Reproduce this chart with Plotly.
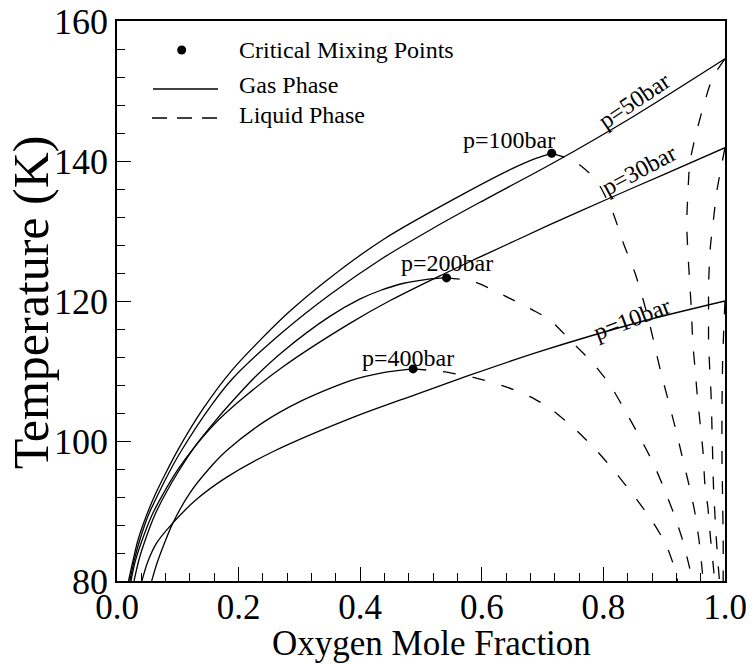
import plotly.graph_objects as go

FONT = "Liberation Serif, Times New Roman, serif"

# ---------------------------------------------------------------------------
# Phase-boundary data for the N2/O2 system (x = O2 mole fraction, T in K)
# ---------------------------------------------------------------------------
pressures = ["10", "30", "50", "100", "200", "400"]

# Critical mixing points (100, 200, 400 bar)
crit_x = [0.715, 0.542, 0.487]
crit_T = [141.1, 123.3, 110.3]

# Gas-phase (dew) branches
gas_10_x = [0.041, 0.050, 0.065, 0.092, 0.130, 0.180, 0.257, 0.383, 0.490, 0.580, 0.696, 0.860, 1.000]
gas_10_T = [80.0, 82.6, 85.4, 88.3, 91.6, 94.8, 98.5, 103.2, 106.6, 109.4, 112.8, 117.0, 120.0]

gas_30_x = [0.023, 0.030, 0.042, 0.058, 0.075, 0.100, 0.128, 0.160, 0.200, 0.273, 0.383, 0.450,
            0.531, 0.600, 0.712, 0.805, 0.900, 1.000]
gas_30_T = [80.0, 82.8, 86.0, 89.5, 92.3, 95.9, 99.2, 102.4, 105.6, 110.6, 116.8, 120.1,
            123.6, 126.4, 130.9, 134.5, 138.1, 141.9]

gas_50_x = [0.021, 0.029, 0.038, 0.052, 0.066, 0.085, 0.105, 0.156, 0.191, 0.273, 0.350, 0.433,
            0.520, 0.597, 0.715, 0.850, 1.000]
gas_50_T = [80.0, 83.2, 86.0, 89.5, 92.1, 95.4, 98.5, 105.2, 109.0, 115.6, 120.9, 125.9,
            130.4, 134.1, 139.6, 146.4, 154.6]

gas_100_x = [0.019, 0.027, 0.035, 0.050, 0.0625, 0.080, 0.100, 0.140, 0.190, 0.280, 0.350, 0.440,
             0.570, 0.650, 0.690, 0.715]
gas_100_T = [80.0, 83.2, 86.0, 89.7, 92.3, 95.4, 98.7, 104.4, 110.2, 118.2, 123.3, 128.9,
             135.3, 138.9, 140.4, 141.1]

gas_200_x = [0.028, 0.036, 0.047, 0.062, 0.080, 0.100, 0.128, 0.160, 0.189, 0.230, 0.273, 0.350,
             0.400, 0.433, 0.470, 0.510, 0.542]
gas_200_T = [80.0, 83.0, 86.0, 89.4, 92.5, 95.5, 99.2, 102.7, 105.6, 109.4, 112.8, 117.8,
             120.3, 121.5, 122.5, 123.1, 123.3]

gas_400_x = [0.057, 0.066, 0.078, 0.092, 0.120, 0.150, 0.180, 0.243, 0.300, 0.383, 0.440, 0.487]
gas_400_T = [80.0, 82.6, 85.4, 88.3, 92.6, 95.9, 98.6, 102.8, 105.6, 108.6, 109.8, 110.3]

# Liquid-phase (bubble) branches
liq_10_x = [1.000, 0.998, 0.996, 0.995, 0.995, 0.996, 0.997, 0.997]
liq_10_T = [120.0, 116.0, 111.0, 104.0, 98.0, 92.0, 86.0, 80.0]

liq_30_x = [1.000, 0.995, 0.986, 0.981, 0.976, 0.973, 0.973, 0.973, 0.975, 0.977, 0.979, 0.981, 0.985, 0.989, 0.991]
liq_30_T = [141.9, 139.7, 135.4, 131.6, 127.8, 122.5, 118.2, 114.0, 110.1, 106.8, 100.5, 93.7, 87.0, 82.0, 80.0]

liq_50_x = [1.000, 0.980, 0.964, 0.951, 0.942, 0.939, 0.937, 0.939, 0.942, 0.945, 0.947, 0.951, 0.954,
            0.959, 0.964, 0.967, 0.972, 0.976, 0.981, 0.983]
liq_50_T = [154.6, 152.0, 147.7, 143.4, 139.7, 135.4, 131.1, 126.9, 122.6, 118.3, 114.0, 110.1, 106.9,
            102.6, 98.3, 93.7, 90.4, 86.3, 81.9, 80.0]

liq_100_x = [0.715, 0.752, 0.788, 0.814, 0.834, 0.852, 0.866, 0.878, 0.886, 0.894, 0.906, 0.918,
             0.929, 0.940, 0.950, 0.957, 0.962, 0.964]
liq_100_T = [141.1, 140.0, 137.3, 133.0, 128.0, 124.0, 120.0, 116.0, 113.0, 110.0, 106.0, 102.0,
             98.0, 94.0, 90.0, 86.0, 82.0, 80.0]

liq_200_x = [0.542, 0.586, 0.641, 0.684, 0.712, 0.750, 0.783, 0.811, 0.832, 0.857, 0.880, 0.898,
             0.915, 0.929, 0.942, 0.946]
liq_200_T = [123.3, 122.8, 120.6, 118.7, 117.3, 114.0, 111.1, 108.0, 104.9, 101.0, 97.2, 93.6,
             89.8, 86.2, 81.8, 80.0]

liq_400_x = [0.487, 0.536, 0.586, 0.641, 0.685, 0.718, 0.756, 0.789, 0.819, 0.849, 0.877, 0.903, 0.918, 0.922]
liq_400_T = [110.3, 109.9, 109.1, 107.7, 106.1, 104.3, 101.5, 98.6, 95.6, 92.3, 89.0, 85.2, 81.6, 80.0]

gas_curves = [(gas_10_x, gas_10_T), (gas_30_x, gas_30_T), (gas_50_x, gas_50_T),
              (gas_100_x, gas_100_T), (gas_200_x, gas_200_T), (gas_400_x, gas_400_T)]
liq_curves = [(liq_10_x, liq_10_T), (liq_30_x, liq_30_T), (liq_50_x, liq_50_T),
              (liq_100_x, liq_100_T), (liq_200_x, liq_200_T), (liq_400_x, liq_400_T)]

x_ticks = [0.0, 0.2, 0.4, 0.6, 0.8, 1.0]
y_ticks = [80, 100, 120, 140, 160]

x_title = "Oxygen Mole Fraction"
y_title = "Temperature (K)"
legend_texts = ["Critical Mixing Points", "Gas Phase", "Liquid Phase"]

# Curve labels: text, x, T, angle
curve_labels = [
    ("p=10bar", 0.847, 117.4, -21),
    ("p=30bar", 0.859, 138.7, -28),
    ("p=50bar", 0.850, 148.6, -34),
    ("p=100bar", 0.645, 143.0, 0),
    ("p=200bar", 0.543, 125.4, 0),
    ("p=400bar", 0.479, 111.9, 0),
]

# ---------------------------------------------------------------------------
fig = go.Figure()

for (cx, cT), p in zip(gas_curves, pressures):
    fig.add_trace(go.Scatter(x=cx, y=cT, mode="lines", name=f"gas {p} bar",
                             line=dict(color="black", width=1.3, shape="spline", smoothing=0.8),
                             showlegend=False, hoverinfo="skip"))

for (cx, cT), p in zip(liq_curves, pressures):
    fig.add_trace(go.Scatter(x=cx, y=cT, mode="lines", name=f"liquid {p} bar",
                             line=dict(color="black", width=1.3, dash="13px,17px",
                                       shape="spline", smoothing=0.6),
                             showlegend=False, hoverinfo="skip"))

fig.add_trace(go.Scatter(x=crit_x, y=crit_T, mode="markers",
                         marker=dict(color="black", size=9),
                         showlegend=False, hoverinfo="skip"))

annotations = []
for text, lx, ly, ang in curve_labels:
    annotations.append(dict(x=lx, y=ly, xref="x", yref="y", text=text, showarrow=False,
                            textangle=ang, font=dict(family=FONT, size=24, color="black")))

# Axis titles
annotations.append(dict(x=0.518, y=-0.150, xref="paper", yref="paper", text=x_title,
                        showarrow=False, xanchor="center", yanchor="bottom",
                        font=dict(family=FONT, size=35, color="black")))
annotations.append(dict(x=-0.142, y=0.497, xref="paper", yref="paper", text=y_title,
                        showarrow=False, xanchor="center", yanchor="middle", textangle=-90,
                        font=dict(family=FONT, size=50, color="black")))

# Hand-drawn key in the upper-left corner
key_text_x = 0.197
key_rows_y = [0.948, 0.885, 0.832]
for txt, ky in zip(legend_texts, key_rows_y):
    annotations.append(dict(x=key_text_x, y=ky, xref="paper", yref="paper", text=txt,
                            showarrow=False, xanchor="left", yanchor="middle",
                            font=dict(family=FONT, size=24, color="black")))

shapes = [
    dict(type="circle", xref="paper", yref="paper", xsizemode="pixel", ysizemode="pixel",
         xanchor=0.1064, yanchor=0.9482, x0=-4.5, x1=4.5, y0=-4.5, y1=4.5,
         fillcolor="black", line=dict(color="black", width=0)),
    dict(type="line", xref="paper", yref="paper", x0=0.0592, x1=0.1661, y0=0.8786, y1=0.8786,
         line=dict(color="black", width=1.3)),
    dict(type="line", xref="paper", yref="paper", x0=0.0576, x1=0.1661, y0=0.8268, y1=0.8268,
         line=dict(color="black", width=1.3, dash="15px,10px")),
]

axis_common = dict(showline=True, linecolor="black", linewidth=1.5, mirror=True,
                   showgrid=False, zeroline=False, ticks="inside", tickcolor="black",
                   tickwidth=1.2, ticklen=14, automargin=False, ticklabeloverflow="allow")

fig.update_layout(
    width=754, height=664, autosize=False,
    margin=dict(l=117, r=29, t=21, b=83, pad=0),
    paper_bgcolor="white", plot_bgcolor="white",
    xaxis=dict(range=[0, 1], tickvals=x_ticks, ticktext=[f"{v:.1f}" for v in x_ticks],
               ticklabelstandoff=-6,
               tickfont=dict(family=FONT, size=35, color="black"),
               minor=dict(dtick=0.04, ticks="inside", ticklen=8, tickcolor="black", tickwidth=1),
               **axis_common),
    yaxis=dict(range=[80, 160], tickvals=y_ticks,
               tickfont=dict(family=FONT, size=36, color="black"),
               minor=dict(dtick=4, ticks="inside", ticklen=8, tickcolor="black", tickwidth=1),
               **axis_common),
    annotations=annotations,
    shapes=shapes,
    showlegend=False,
)

fig.write_html("out.html")
